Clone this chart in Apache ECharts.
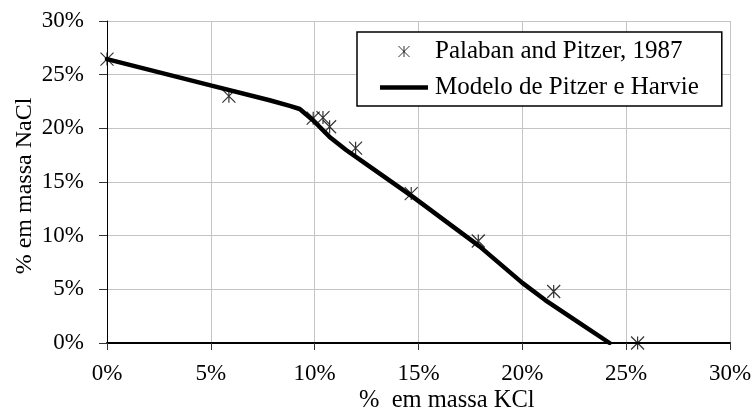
<!DOCTYPE html>
<html>
<head>
<meta charset="utf-8">
<script src="https://cdn.jsdelivr.net/npm/echarts@6/dist/echarts.min.js"></script>
<style>
  html, body { margin: 0; padding: 0; background: #fff; }
  #chart { width: 755px; height: 411px; }
</style>
</head>
<body>
<div id="chart"></div>
<script>
// Experimental solubility points (mass % KCl, mass % NaCl)
const expKCl  = [0, 5.87, 9.93, 10.4, 10.72, 11.97, 14.65, 17.88, 21.51, 25.55];
const expNaCl = [26.45, 23.0, 20.95, 21.0, 20.15, 18.15, 13.92, 9.5, 4.8, 0];

// Pitzer–Harvie model curve
const modelKCl  = [0, 4.94, 7.83, 8.8, 9.28, 9.92, 10.72, 11.53, 12.33, 14.73, 17.94, 20.0, 21.1, 22.76, 24.2];
const modelNaCl = [26.45, 24.02, 22.62, 22.1, 21.8, 20.75, 19.2, 17.96, 16.87, 13.61, 9.0, 5.6, 4.0, 1.85, 0];

// Axis ticks (percent)
const xTicks = [0, 5, 10, 15, 20, 25, 30];
const yTicks = [0, 5, 10, 15, 20, 25, 30];

const expName = 'Palaban and Pitzer, 1987';
const modelName = 'Modelo de Pitzer e Harvie';
const serif = 'Liberation Serif';

// asterisk marker: an X crossed by a vertical stroke
const asterisk = 'path://M0,0L10,10M10,0L0,10M5,0L5,10';
// thick horizontal bar for the model's legend key (moves pin the 48x11 box)
const barIcon = 'path://M0,0M48,11M0,3.2L48,3.2L48,7.8L0,7.8Z';

const chart = echarts.init(document.getElementById('chart'), null, { renderer: 'canvas' });

chart.setOption({
  animation: false,
  backgroundColor: '#ffffff',
  grid: { left: 107, right: 25, top: 21, bottom: 68, containLabel: false },
  xAxis: {
    type: 'value',
    min: xTicks[0],
    max: xTicks[xTicks.length - 1],
    interval: xTicks[1] - xTicks[0],
    axisLine: { show: true, onZero: false, lineStyle: { color: '#000', width: 2 } },
    axisTick: { show: true, inside: false, length: 7, lineStyle: { color: '#333', width: 1 } },
    axisLabel: { margin: 19, formatter: '{value}%', color: '#000', fontFamily: serif, fontSize: 23 },
    splitLine: { show: true, lineStyle: { color: '#c4c4c4', width: 1 } }
  },
  yAxis: {
    type: 'value',
    min: yTicks[0],
    max: yTicks[yTicks.length - 1],
    interval: yTicks[1] - yTicks[0],
    axisLine: { show: true, onZero: false, lineStyle: { color: '#000', width: 1 } },
    axisTick: { show: true, inside: false, length: 8, lineStyle: { color: '#333', width: 1 } },
    axisLabel: { margin: 23, formatter: '{value}%', color: '#000', fontFamily: serif, fontSize: 23 },
    splitLine: { show: true, lineStyle: { color: '#c4c4c4', width: 1 } }
  },
  legend: {
    orient: 'vertical',
    left: 357,
    top: 32,
    padding: [7, 23, 6, 23],
    itemGap: 11,
    itemWidth: 48,
    itemHeight: 11,
    backgroundColor: '#fff',
    borderColor: '#000',
    borderWidth: 1.5,
    borderRadius: 0,
    textStyle: { color: '#000', fontFamily: serif, fontSize: 25, padding: [0, 0, 0, 2] },
    data: [
      {
        name: expName,
        icon: asterisk,
        itemStyle: { color: 'rgba(0,0,0,0)', borderColor: '#000', borderWidth: 1 }
      },
      {
        name: modelName,
        icon: barIcon,
        itemStyle: { color: '#000', borderWidth: 0 }
      }
    ]
  },
  series: [
    {
      name: expName,
      type: 'scatter',
      symbol: asterisk,
      symbolSize: 13,
      symbolKeepAspect: true,
      itemStyle: { color: 'rgba(0,0,0,0)', borderColor: '#000', borderWidth: 1.2 },
      data: expKCl.map((x, i) => [x, expNaCl[i]]),
      z: 2
    },
    {
      name: modelName,
      type: 'line',
      showSymbol: false,
      symbol: 'none',
      smooth: false,
      lineStyle: { color: '#000', width: 4.5, join: 'round', cap: 'round' },
      itemStyle: { color: '#000' },
      data: modelKCl.map((x, i) => [x, modelNaCl[i]]),
      z: 3
    }
  ],
  graphic: [
    {
      type: 'text',
      x: 359,
      y: 401,
      style: {
        text: '%  em massa KCl',
        fill: '#000',
        font: '24.5px "Liberation Serif"',
        align: 'left',
        verticalAlign: 'middle'
      }
    },
    {
      type: 'text',
      x: 25,
      y: 186,
      rotation: Math.PI / 2,
      style: {
        text: '% em massa NaCl',
        fill: '#000',
        font: '24px "Liberation Serif"',
        align: 'center',
        verticalAlign: 'middle'
      }
    }
  ]
});
</script>
</body>
</html>
